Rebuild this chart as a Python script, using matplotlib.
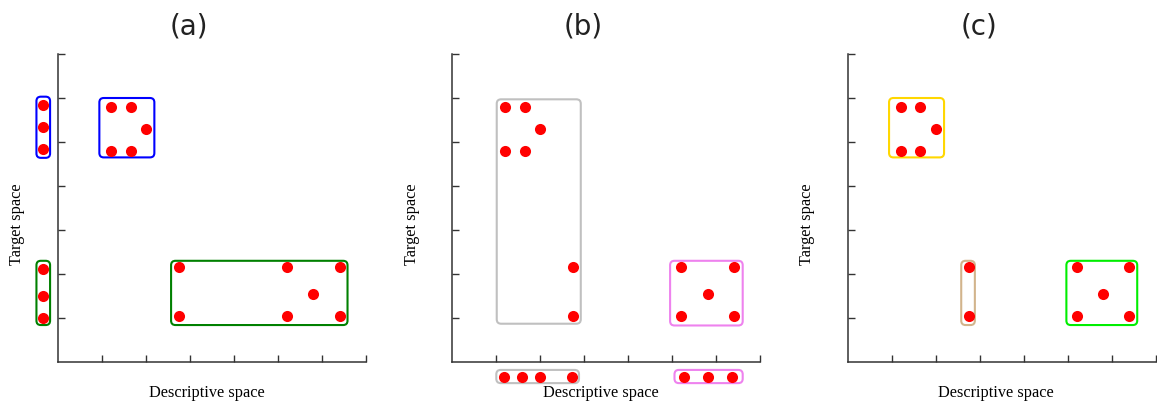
import numpy as np
import matplotlib
matplotlib.use("Agg")
import matplotlib.pyplot as plt
from matplotlib.patches import FancyBboxPatch

# point clouds (descriptive, target)
top_x = [1.2, 1.65, 2.0, 1.2, 1.65]
top_y = [5.8, 5.8, 5.3, 4.8, 4.8]
bot_x = [2.75, 5.2, 6.4, 5.8, 2.75, 5.2, 6.4]
bot_y = [2.15, 2.15, 2.15, 1.55, 1.05, 1.05, 1.05]

# marginal projections
marg_a_blue = [5.85, 5.33, 4.83]
marg_a_green = [2.12, 1.51, 1.0]
marg_b_gray = [1.18, 1.59, 2.0, 2.71]
marg_b_pink = [5.26, 5.8, 6.36]

titles = ["(a)", "(b)", "(c)"]
lefts = [58, 452.3, 847.7]

W, H = 1157, 405
fig = plt.figure(figsize=(W/100, H/100), dpi=100)

def make_ax(left):
    ax = fig.add_axes([left/W, (H-362)/H, 308/W, 308/H])
    ax.set_xlim(0, 7)
    ax.set_ylim(0, 7)
    for s in ["top", "right"]:
        ax.spines[s].set_visible(False)
    for s in ["left", "bottom"]:
        ax.spines[s].set_color("#333333")
        ax.spines[s].set_linewidth(1.1)
    ax.set_xticks(range(1, 8))
    ax.set_yticks(range(1, 8))
    ax.tick_params(direction="in", length=5, width=1.0, color="#333333",
                   labelbottom=False, labelleft=False)
    ax.set_xlabel("Descriptive space", family="Liberation Serif", fontsize=11.7)
    ax.set_ylabel("Target space", family="Liberation Serif", fontsize=11.7)
    ax.xaxis.set_label_coords(0.482, -0.075)
    ax.yaxis.set_label_coords(-0.106, 0.448)
    return ax

def box(ax, x0, y0, x1, y1, color):
    p = FancyBboxPatch((x0, y0), x1-x0, y1-y0, boxstyle="round,pad=0,rounding_size=0.1",
                       fill=False, edgecolor=color, linewidth=1.5, clip_on=False)
    ax.add_patch(p)

def dots(ax, xs, ys):
    ax.plot(xs, ys, "o", color="red", markersize=8, markeredgewidth=0, clip_on=False, zorder=5)

axes = [make_ax(l) for l in lefts]
for ax, t in zip(axes, titles):
    ax.set_title(t, fontsize=20, pad=14, family="DejaVu Sans", color="#222222", x=0.425)

# (a)
ax = axes[0]
dots(ax, top_x, top_y)
dots(ax, bot_x, bot_y)
dots(ax, [-0.34]*3, marg_a_blue)
dots(ax, [-0.34]*3, marg_a_green)
box(ax, 0.94, 4.65, 2.19, 6.0, "#0000ff")
box(ax, 2.57, 0.84, 6.58, 2.30, "#008000")
box(ax, -0.49, 4.64, -0.18, 6.03, "#0000ff")
box(ax, -0.49, 0.84, -0.18, 2.30, "#008000")

# (b)
ax = axes[1]
dots(ax, top_x + [2.75, 2.75], top_y + [2.15, 1.05])
dots(ax, bot_x[1:4] + bot_x[5:], bot_y[1:4] + bot_y[5:])
dots(ax, marg_b_gray, [-0.33]*4)
dots(ax, marg_b_pink, [-0.33]*3)
box(ax, 1.01, 0.87, 2.92, 5.97, "#c0c0c0")
box(ax, 4.95, 0.83, 6.6, 2.30, "#ee82ee")
box(ax, 1.0, -0.48, 2.88, -0.18, "#c0c0c0")
box(ax, 5.05, -0.48, 6.6, -0.18, "#ee82ee")

# (c)
ax = axes[2]
dots(ax, top_x, top_y)
dots(ax, bot_x, bot_y)
box(ax, 0.94, 4.65, 2.19, 6.0, "#ffd700")
box(ax, 2.58, 0.84, 2.89, 2.30, "#d2b48c")
box(ax, 4.97, 0.84, 6.58, 2.30, "#00ee00")

fig.savefig("out.png", dpi=100)
